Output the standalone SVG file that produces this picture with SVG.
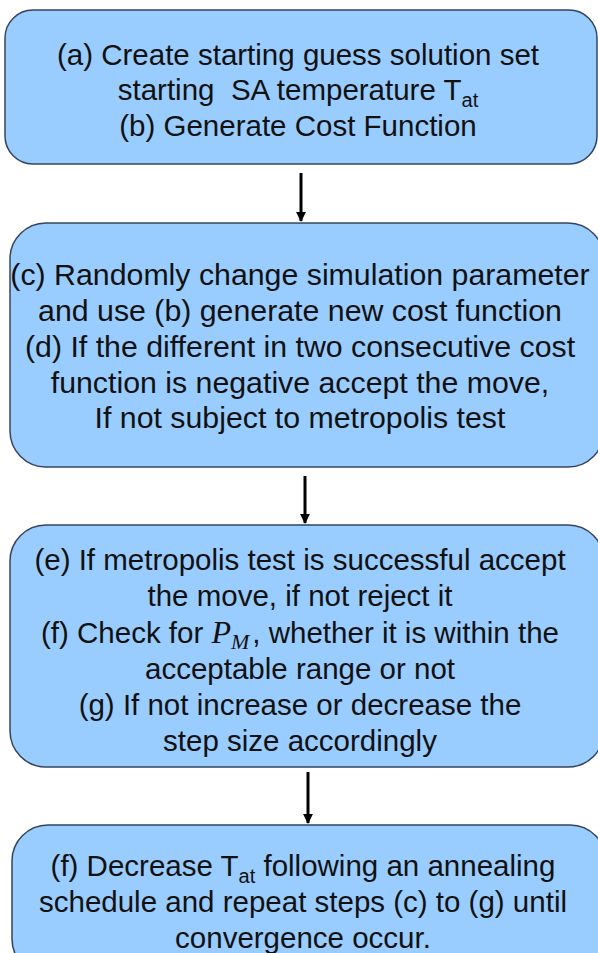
<svg xmlns="http://www.w3.org/2000/svg" width="598" height="953" viewBox="0 0 598 953">
  <style>
    .box { fill: #99ccff; stroke: #34445e; stroke-width: 1.5; }
    .lbl { font-family: "Liberation Sans", Arial, sans-serif; font-size: 29.5px; fill: #111; text-anchor: middle; white-space: pre; }
    .big { font-size: 30.3px; }
    .sub { font-size: 20px; }
    .math { font-family: "Liberation Serif", "Times New Roman", serif; font-style: italic; font-size: 32px; }
    .msub { font-family: "Liberation Serif", "Times New Roman", serif; font-style: italic; font-size: 22px; }
    .edge { stroke: #000; stroke-width: 3; fill: none; marker-end: url(#head); }
  </style>
  <defs>
    <marker id="head" viewBox="0 0 10 10" refX="9" refY="5" markerWidth="3.3" markerHeight="3.3" orient="auto" markerUnits="strokeWidth">
      <path d="M0,0 L10,5 L0,10 Z" fill="#000"/>
    </marker>
  </defs>

  <rect width="598" height="953" fill="#ffffff"/>

  <!-- connectors -->
  <g id="connectors">
    <line class="edge" x1="301" y1="173" x2="301" y2="221"/>
    <line class="edge" x1="305" y1="476" x2="305" y2="523"/>
    <line class="edge" x1="308" y1="772" x2="308" y2="823"/>
  </g>

  <!-- step (a)/(b): initial set-up -->
  <g id="node-init">
    <rect class="box" x="5" y="10" width="592" height="154" rx="28" ry="28"/>
    <text class="lbl" x="298" y="65">(a) Create starting guess solution set</text>
    <text class="lbl" x="298" y="100">starting  SA temperature T<tspan class="sub" dy="7">at</tspan></text>
    <text class="lbl" x="298" y="136">(b) Generate Cost Function</text>
  </g>

  <!-- step (c)/(d): perturb and compare -->
  <g id="node-perturb">
    <rect class="box" x="10" y="223" width="594" height="244" rx="36" ry="36"/>
    <text class="lbl big" x="300" y="285">(c) Randomly change simulation parameter</text>
    <text class="lbl big" x="300" y="321">and use (b) generate new cost function</text>
    <text class="lbl big" x="300" y="357">(d) If the different in two consecutive cost</text>
    <text class="lbl big" x="300" y="393">function is negative accept the move,</text>
    <text class="lbl big" x="300" y="428">If not subject to metropolis test</text>
  </g>

  <!-- step (e)-(g): metropolis test and step size -->
  <g id="node-metropolis">
    <rect class="box" x="10" y="525" width="594" height="242" rx="36" ry="36"/>
    <text class="lbl" x="300" y="570">(e) If metropolis test is successful accept</text>
    <text class="lbl" x="300" y="606">the move, if not reject it</text>
    <text class="lbl" x="300" y="643">(f) Check for <tspan class="math">P</tspan><tspan class="msub" dy="6">M</tspan><tspan dx="3" dy="-6">, whether it is within the</tspan></text>
    <text class="lbl" x="300" y="679">acceptable range or not</text>
    <text class="lbl" x="300" y="715">(g) If not increase or decrease the</text>
    <text class="lbl" x="300" y="751">step size accordingly</text>
  </g>

  <!-- final step: cooling schedule -->
  <g id="node-cooling">
    <rect class="box" x="12" y="825" width="594" height="150" rx="36" ry="36"/>
    <text class="lbl" x="303" y="876">(f) Decrease T<tspan class="sub" dy="7">at</tspan><tspan dy="-7"> following an annealing</tspan></text>
    <text class="lbl" x="303" y="912">schedule and repeat steps (c) to (g) until</text>
    <text class="lbl" x="303" y="948">convergence occur.</text>
  </g>
</svg>
